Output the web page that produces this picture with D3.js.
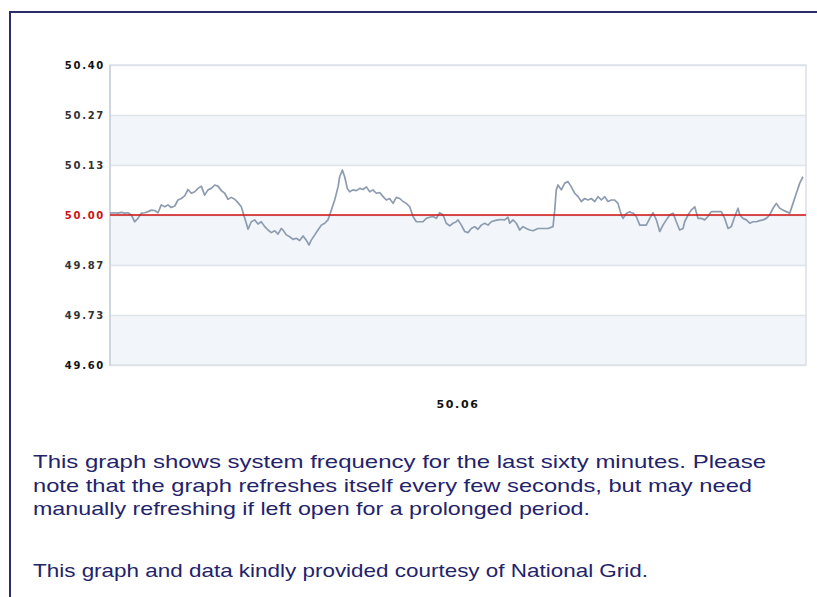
<!DOCTYPE html>
<html>
<head>
<meta charset="utf-8">
<script src="https://cdn.jsdelivr.net/npm/d3@7"></script>
<style>
body { margin: 0; background: #fff; }
svg { display: block; }
.ylab { font-family: "DejaVu Sans", Verdana, sans-serif; font-weight: bold; font-size: 10px; letter-spacing: 1.7px; }
.note { font-family: "Liberation Sans", Arial, sans-serif; font-size: 19px; fill: #23236b; }
</style>
</head>
<body>
<svg width="817" height="597"></svg>
<script>
// minutes into the last hour
var minutes = [0, 0.41, 0.69, 0.97, 1.27, 1.55, 1.84, 2.13, 2.41, 2.70, 2.99, 3.28, 3.56, 3.85, 4.14, 4.42, 4.72, 5.00, 5.28, 5.58,
    5.86, 6.15, 6.44, 6.72, 7.01, 7.30, 7.59, 7.87, 8.16, 8.45, 8.73, 9.03, 9.31, 9.60, 9.89, 10.17, 10.46, 10.75, 11.03, 11.32,
    11.53, 11.75, 11.90, 12.18, 12.47, 12.76, 13.04, 13.34, 13.62, 13.91, 14.20, 14.48, 14.77, 14.91, 15.20, 15.49, 15.78, 16.06, 16.35, 16.64,
    16.92, 17.16, 17.35, 17.65, 17.93, 18.22, 18.51, 18.79, 18.94, 19.08, 19.37, 19.66, 19.80, 20.03, 20.23, 20.46, 20.66, 20.95, 21.23, 21.53,
    21.81, 22.10, 22.39, 22.67, 22.96, 23.25, 23.54, 23.82, 24.11, 24.40, 24.68, 24.98, 25.26, 25.54, 25.84, 26.12, 26.41, 26.70, 26.98, 27.27,
    27.56, 27.85, 28.13, 28.42, 28.71, 28.99, 29.29, 29.57, 29.85, 30.00, 30.29, 30.58, 30.86, 31.15, 31.44, 31.72, 32.01, 32.30, 32.59, 32.87,
    33.17, 33.45, 33.73, 34.03, 34.31, 34.46, 34.74, 35.03, 35.32, 35.60, 35.89, 36.18, 36.47, 36.90, 37.33, 37.76, 38.19, 38.34, 38.47, 38.62,
    38.91, 39.20, 39.48, 39.77, 40.06, 40.35, 40.63, 40.92, 41.21, 41.49, 41.79, 42.07, 42.36, 42.65, 42.93, 43.22, 43.51, 43.79, 44.08, 44.23,
    44.51, 44.80, 44.94, 45.09, 45.37, 45.67, 45.95, 46.23, 46.53, 46.81, 47.10, 47.39, 47.67, 47.96, 48.25, 48.54, 48.82, 49.11, 49.40, 49.54,
    49.83, 50.11, 50.41, 50.69, 50.98, 51.27, 51.55, 51.84, 52.13, 52.41, 52.70, 52.99, 53.28, 53.56, 53.86, 54.14, 54.29, 54.57, 54.86, 55.15,
    55.43, 55.72, 56.01, 56.30, 56.58, 56.87, 57.16, 57.44, 57.74, 58.02, 58.30, 58.60, 58.88, 59.17, 59.46, 59.74];

// system frequency (Hz)
var freq = [50.005, 50.006, 50.005, 50.007, 50.005, 50.006, 50.000, 49.982, 49.991, 50.005, 50.006, 50.009, 50.013, 50.012, 50.006, 50.027, 50.022, 50.027, 50.020, 50.024,
    50.040, 50.044, 50.051, 50.068, 50.058, 50.062, 50.071, 50.077, 50.053, 50.067, 50.071, 50.080, 50.077, 50.065, 50.058, 50.042, 50.047, 50.042, 50.033, 50.022,
    50.000, 49.978, 49.962, 49.982, 49.987, 49.976, 49.982, 49.969, 49.960, 49.953, 49.958, 49.949, 49.964, 49.960, 49.947, 49.942, 49.935, 49.938, 49.932, 49.944,
    49.933, 49.920, 49.933, 49.947, 49.960, 49.973, 49.978, 49.987, 50.000, 50.013, 50.040, 50.075, 50.102, 50.120, 50.102, 50.071, 50.062, 50.067, 50.065, 50.071,
    50.068, 50.075, 50.062, 50.067, 50.058, 50.060, 50.049, 50.040, 50.044, 50.031, 50.047, 50.044, 50.036, 50.031, 50.022, 49.996, 49.982, 49.982, 49.982, 49.991,
    49.994, 49.996, 49.991, 50.006, 50.000, 49.978, 49.971, 49.978, 49.982, 49.987, 49.973, 49.956, 49.953, 49.964, 49.969, 49.962, 49.973, 49.978, 49.973, 49.982,
    49.985, 49.987, 49.988, 49.987, 49.994, 49.978, 49.987, 49.978, 49.960, 49.969, 49.964, 49.960, 49.958, 49.964, 49.964, 49.964, 49.969, 50.013, 50.067, 50.080,
    50.067, 50.085, 50.089, 50.075, 50.058, 50.049, 50.036, 50.044, 50.040, 50.044, 50.036, 50.049, 50.040, 50.049, 50.036, 50.040, 50.040, 50.031, 50.000, 49.991,
    50.004, 50.009, 50.006, 50.005, 49.996, 49.973, 49.973, 49.973, 49.991, 50.006, 49.987, 49.956, 49.973, 49.987, 50.000, 50.005, 49.982, 49.960, 49.964, 49.982,
    50.000, 50.013, 50.022, 49.991, 49.991, 49.987, 49.996, 50.009, 50.009, 50.009, 50.009, 49.991, 49.964, 49.969, 49.996, 50.018, 50.000, 49.991, 49.987, 49.978,
    49.982, 49.982, 49.985, 49.987, 49.991, 50.000, 50.018, 50.031, 50.018, 50.013, 50.009, 50.005, 50.031, 50.058, 50.085, 50.102];

var nominal = 50.00;
var currentFreq = "50.06";

var noteLines = [
    "This graph shows system frequency for the last sixty minutes. Please",
    "note that the graph refreshes itself every few seconds, but may need",
    "manually refreshing if left open for a prolonged period.",
    "This graph and data kindly provided courtesy of National Grid."
];

var svg = d3.select("svg");

// outer frame, runs off the right and bottom of the window
svg.append("rect")
    .attr("x", 10).attr("y", 12)
    .attr("width", 900).attr("height", 700)
    .attr("fill", "#fff")
    .attr("stroke", "#2c2c68")
    .attr("stroke-width", 2);

var pLeft = 110, pRight = 806, pTop = 65, pBottom = 365;

var x = d3.scaleLinear().domain([0, 60]).range([pLeft, pRight]);
var y = d3.scaleLinear().domain([49.60, 50.40]).range([pBottom, pTop]);

var ticks = d3.range(7).map(function(i) { return 49.60 + i * 0.8 / 6; });

var plot = svg.append("g");

// alternating bands
plot.selectAll("rect.band")
    .data(d3.range(6))
    .enter()
    .append("rect")
    .attr("class", "band")
    .attr("x", pLeft)
    .attr("width", pRight - pLeft)
    .attr("y", function(i) { return y(ticks[i + 1]); })
    .attr("height", function(i) { return y(ticks[i]) - y(ticks[i + 1]); })
    .attr("fill", function(i) { return i % 2 == 0 ? "#f2f5f9" : "#fff"; });

// gridlines
var grid = plot.append("g")
    .attr("transform", "translate(" + pLeft + ",0)")
    .call(d3.axisLeft(y).tickValues(ticks).tickSize(-(pRight - pLeft)).tickFormat(""));
grid.select(".domain").remove();
grid.selectAll("line").attr("stroke", "#dfe4ea").attr("stroke-width", 1.3);

// plot border
plot.append("rect")
    .attr("x", pLeft).attr("y", pTop)
    .attr("width", pRight - pLeft).attr("height", pBottom - pTop)
    .attr("fill", "none")
    .attr("stroke", "#dbe1e8")
    .attr("stroke-width", 1.5);
plot.append("line")
    .attr("x1", pLeft).attr("x2", pLeft)
    .attr("y1", pTop).attr("y2", pBottom + 1)
    .attr("stroke", "#cfd6df")
    .attr("stroke-width", 2);

// y labels
var yAxis = svg.append("g")
    .attr("transform", "translate(" + (pLeft - 5) + ",0)")
    .call(d3.axisLeft(y).tickValues(ticks).tickSize(0).tickPadding(0).tickFormat(d3.format(".2f")));
yAxis.select(".domain").remove();
yAxis.selectAll("text")
    .attr("class", "ylab")
    .attr("font-family", null).attr("font-size", null)
    .attr("fill", function(d) {
        if (Math.abs(d - nominal) < 1e-6) return "#cc1111";
        if (d == ticks[0] || d == ticks[6]) return "#111";
        return "#333";
    });

// frequency trace
var line = d3.line()
    .x(function(d, i) { return x(minutes[i]); })
    .y(function(d) { return y(d); });

plot.append("path")
    .datum(freq)
    .attr("fill", "none")
    .attr("stroke", "#8d9cb0")
    .attr("stroke-width", 1.7)
    .attr("stroke-linejoin", "round")
    .attr("d", line);

// nominal 50 Hz line
plot.append("line")
    .attr("x1", pLeft).attr("x2", pRight)
    .attr("y1", y(nominal)).attr("y2", y(nominal))
    .attr("stroke", "#d01010")
    .attr("stroke-width", 1.5);

// current reading
svg.append("text")
    .attr("class", "ylab")
    .attr("x", (pLeft + pRight) / 2)
    .attr("y", 408)
    .attr("text-anchor", "middle")
    .style("font-size", "11px")
    .style("letter-spacing", "1.6px")
    .attr("fill", "#111")
    .text(currentFreq);

// notes under the chart; the original text is set wide, so stretch each line
var noteY = [468, 492, 515, 577];
var noteW = [733, 719, 557, 615];
svg.selectAll("text.note")
    .data(noteLines)
    .enter()
    .append("text")
    .attr("class", "note")
    .attr("x", 33)
    .attr("y", function(d, i) { return noteY[i]; })
    .attr("textLength", function(d, i) { return noteW[i]; })
    .attr("lengthAdjust", "spacingAndGlyphs")
    .text(function(d) { return d; });
</script>
</body>
</html>
